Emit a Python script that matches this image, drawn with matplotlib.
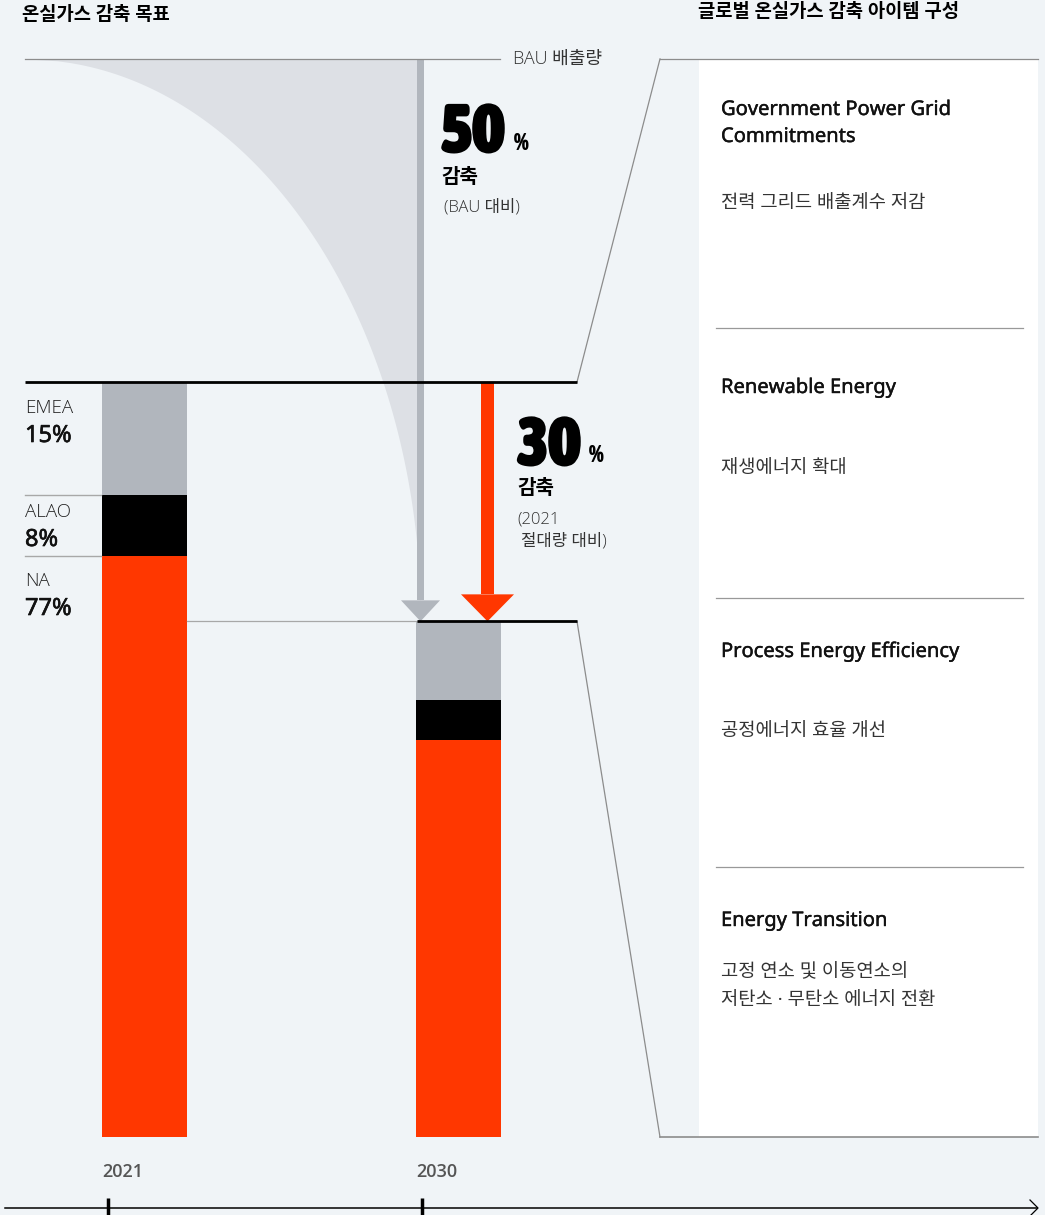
import numpy as np
import matplotlib.pyplot as plt
from matplotlib.patches import Rectangle, Polygon
from matplotlib import font_manager as fm
import matplotlib.patheffects as pe

plt.rcParams['font.family'] = ['Noto Sans', 'Noto Sans CJK KR', 'DejaVu Sans']

# ---------------------------------------------------------------
# data (emission index, 2021 total = 100)
years = ['2021', '2030']
regions = ['NA', 'ALAO', 'EMEA']
share_2021 = [77, 8, 15]            # % of 2021 emissions
emis_2021 = [77, 8, 15]
emis_2030 = [52.6, 5.3, 10.4]       # 2030 target per region
bau_2030 = 142.8                    # business-as-usual 2030
cut_bau = 50                        # % cut vs BAU
cut_abs = 30                        # % cut vs 2021

items = ['Government Power Grid\nCommitments', 'Renewable Energy',
         'Process Energy Efficiency', 'Energy Transition']
item_desc = ['전력 그리드 배출계수 저감', '재생에너지 확대', '공정에너지 효율 개선',
             '고정 연소 및 이동연소의\n저탄소 · 무탄소 에너지 전환']

# ---------------------------------------------------------------
# style
bg = '#f0f4f7'
red = '#ff3700'
grey = '#b1b6bd'
fill_grey = '#dde0e5'
line_grey = '#8c8c8c'
reg_colors = {'NA': red, 'ALAO': '#000000', 'EMEA': grey}
bar_x = [102, 416]
bar_w = 85

WMAP = {'light': 300, 'normal': 400, 'regular': 400, 'medium': 500, 'semibold': 600,
        'demibold': 600, 'bold': 700, 'extra bold': 800, 'heavy': 900, 'black': 900}


def wnum(w):
    return w if isinstance(w, int) else WMAP.get(str(w).lower(), 400)


def pick_condensed():
    # heavy narrow upright face for the big numbers, if installed
    best = None
    for f in fm.fontManager.ttflist:
        nm = f.name.lower()
        st = f.stretch
        narrow = ('narrow' in nm or 'condensed' in nm or
                  (isinstance(st, str) and 'condensed' in st) or
                  (isinstance(st, int) and st < 500))
        w = wnum(f.weight)
        if narrow and w >= 700 and f.style == 'normal' and 'mono' not in nm and 'serif' not in nm:
            if best is None or w > best[0]:
                best = (w, f.fname)
    return best[1] if best else None


def latin(weight, cands=('Noto Sans', 'Open Sans', 'Lato', 'Roboto', 'Inter')):
    # first latin family that really has this weight
    for c in cands:
        for f in fm.fontManager.ttflist:
            if f.name == c and f.style == 'normal' and wnum(f.weight) == weight:
                return dict(family=[c, 'Noto Sans CJK KR', 'DejaVu Sans'], fontweight=weight)
    return dict(fontweight='bold' if weight >= 600 else 'normal')


def medium(color, lw=0.6):
    # regular Noto Sans, thickened a little
    return dict(color=color, path_effects=[pe.withStroke(linewidth=lw, foreground=color)])


cond = pick_condensed()
if cond:
    big_font = dict(fontproperties=fm.FontProperties(fname=cond, size=48.5))
    pct_font = dict(fontproperties=fm.FontProperties(fname=cond, size=17))
else:
    big_font = dict(family='DejaVu Sans', fontweight='bold', fontsize=40)
    pct_font = dict(family='DejaVu Sans', fontweight='bold', fontsize=13)

f_light = latin(300)
f_semi = latin(600)

fig = plt.figure(figsize=(10.45, 12.15), dpi=100, facecolor=bg)
# pixel canvas for decorations / text
cv = fig.add_axes([0, 0, 1, 1])
cv.set_xlim(0, 1045)
cv.set_ylim(1215, 0)
cv.axis('off')
# data axes (y = emission index)
ax = fig.add_axes([0, 0, 1, 1])
ax.set_xlim(0, 1045)
ax.set_ylim(-10.33, 150.6)
ax.axis('off')
ax.patch.set_alpha(0)


def px(v):
    # data value -> canvas pixel y
    return cv.transData.inverted().transform(ax.transData.transform((0, v)))[1]


t21 = sum(emis_2021)
t30 = sum(emis_2030)
y_bau, y21, y30, y0 = px(bau_2030), px(t21), px(t30), px(0)

# BAU funnel
arrow_x = 420.5
ys = np.linspace(y_bau, y30, 300)
xs = 25 + (arrow_x - 25) * np.sqrt(np.clip(1 - ((y30 - ys) / (y30 - y_bau))**2, 0, 1))
cv.fill_betweenx(ys, xs, arrow_x, color=fill_grey, lw=0)

# right panel
cv.add_patch(Rectangle((699, y_bau), 339, y0 - y_bau, facecolor='white', edgecolor='none', zorder=0))

# stacked bars
for i, vals in enumerate([emis_2021, emis_2030]):
    bottom = 0
    for reg, v in zip(regions, vals):
        ax.bar(bar_x[i], v, width=bar_w, bottom=bottom, align='edge',
               color=reg_colors[reg], lw=0)
        bottom += v

# frame lines
ax.plot([25, 500], [bau_2030, bau_2030], color=line_grey, lw=0.9)
ax.plot([660, 1038], [bau_2030, bau_2030], color=line_grey, lw=0.9)
ax.plot([577, 660], [t21, bau_2030], color=line_grey, lw=0.9)
ax.plot([577, 660], [t30, 0], color=line_grey, lw=0.9)
ax.plot([660, 1038], [0, 0], color=line_grey, lw=1.2)
ax.plot([187, 417], [t30, t30], color='#a8a8a8', lw=0.9)
ax.plot([25, 577], [t21, t21], color='black', lw=2, solid_capstyle='butt')
ax.plot([417, 577], [t30, t30], color='black', lw=2, solid_capstyle='butt')

# region separators + labels
cum = np.cumsum(emis_2021)
for c in cum[:-1]:
    ax.plot([25, 101], [c, c], color='#a8a8a8', lw=1)
name_y = [581, 512, 408]
for reg, s, yy in zip(regions, share_2021, name_y):
    cv.text(25, yy, reg, fontsize=13.5, color='#222', va='center', **f_light)
    cv.text(25, yy + 28, f'{s}%', fontsize=17, va='center', **medium('#111', 0.45))

# grey arrow (BAU -> target)
cv.add_patch(Rectangle((arrow_x - 3.5, y_bau), 7, (y30 - 21) - y_bau, color=grey, lw=0))
cv.add_patch(Polygon([(arrow_x - 19.5, y30 - 21), (arrow_x + 19.5, y30 - 21), (arrow_x, y30)],
                     color=grey, lw=0))
# red arrow (2021 -> target)
rx = 487.5
cv.add_patch(Rectangle((rx - 6.5, y21), 13, (y30 - 27) - y21, color=red, lw=0))
cv.add_patch(Polygon([(rx - 26.5, y30 - 27), (rx + 26.5, y30 - 27), (rx, y30)],
                     color=red, lw=0))

# texts
stroke = [pe.withStroke(linewidth=1.4, foreground='black')]
cv.text(22, 15, '온실가스 감축 목표', fontsize=13.5, fontweight='bold', va='center')
cv.text(698, 12, '글로벌 온실가스 감축 아이템 구성', fontsize=13.5, fontweight='bold', va='center')
cv.text(513, 59, 'BAU 배출량', fontsize=13, color='#333', va='center', **f_light)

cv.text(441, 152, str(cut_bau), color='black', va='baseline', path_effects=stroke, **big_font)
cv.text(514, 150, '%', color='black', va='baseline', **pct_font)
cv.text(441, 178, '감축', fontsize=14.5, fontweight='bold', va='center')
cv.text(444, 207, '(BAU 대비)', fontsize=12, color='#333', va='center', **f_light)

cv.text(517, 465, str(cut_abs), color='black', va='baseline', path_effects=stroke, **big_font)
cv.text(589, 462, '%', color='black', va='baseline', **pct_font)
cv.text(517, 489, '감축', fontsize=14.5, fontweight='bold', va='center')
cv.text(517, 519, '(2021', fontsize=12, color='#333', va='center', **f_light)
cv.text(521, 541, '절대량 대비)', fontsize=12, color='#333', va='center', **f_light)

for x, yr in zip(bar_x, years):
    cv.text(x, 1172, yr, fontsize=13, color='#555', va='center', **f_semi)
    cv.plot([x + 6, x + 6], [1198, 1215], color='black', lw=2.5, solid_capstyle='butt')

# time axis
cv.plot([5, 1037], [1208, 1208], color='black', lw=1.1)
cv.plot([1030, 1038, 1030], [1200, 1208, 1216], color='black', lw=0.9)

# right panel items
sec_h = bau_2030 / len(items)
for k in range(1, len(items)):
    yv = bau_2030 - k * sec_h
    ax.plot([716, 1023], [yv, yv], color='#999999', lw=0.9)
title_y = [110, 388, 652, 921]
desc_y = [203, 468, 731, 972]
for t, d, ty, dy in zip(items, item_desc, title_y, desc_y):
    for j, line in enumerate(t.split('\n')):
        cv.text(721, ty + j * 27, line, fontsize=14.5, va='center', **medium('#111', 0.3))
    for j, line in enumerate(d.split('\n')):
        cv.text(721, dy + j * 28, line, fontsize=13.5, color='#333', va='center')

fig.savefig('out.png', dpi=100, facecolor=bg)
